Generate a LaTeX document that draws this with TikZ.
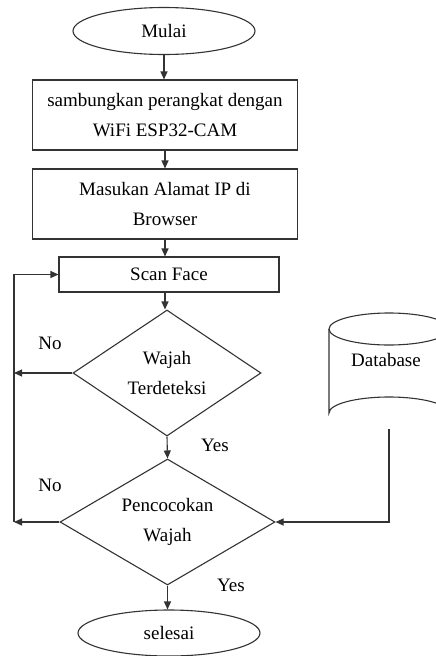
\documentclass[tikz,border=0pt]{standalone}
\usepackage{fontspec}
\setmainfont{Liberation Serif}
\usetikzlibrary{shapes.geometric,arrows.meta}
\tikzset{
  every node/.style={font=\fontsize{19}{30.5}\selectfont, text=black},
  ln/.style={draw=black!80, line width=1.1pt},
  arr/.style={ln, -{Triangle[length=8pt,width=7pt]}},
  boxnode/.style={ln, rectangle, inner sep=0pt, align=center},
  termnode/.style={ln, ellipse, inner sep=0pt},
  decnode/.style={ln, diamond, inner sep=0pt},
  txt/.style={align=center, inner sep=0pt}
}
\begin{document}
\begin{tikzpicture}[x=1pt,y=-1pt]
\useasboundingbox (0,0) rectangle (436,656);
% terminals and boxes
\node[termnode, minimum width=182pt, minimum height=47pt] (mulai) at (164,31) {Mulai};
\node[boxnode, minimum width=265pt, minimum height=70pt] (b1) at (165,115) {sambungkan perangkat dengan\\WiFi ESP32-CAM};
\node[boxnode, minimum width=265pt, minimum height=70pt] (b2) at (165,204) {Masukan Alamat IP di\\Browser};
\node[boxnode, minimum width=220pt, minimum height=35pt] (scan) at (169,274.5) {Scan Face};
% decisions
\node[decnode, minimum width=188pt, minimum height=126pt] (d1) at (167,373) {};
\node[txt] (d1t) at (d1) {Wajah\\Terdeteksi};
\node[decnode, minimum width=215pt, minimum height=126pt] (d2) at (167.5,522) {};
\node[txt] (d2t) at (d2) {Pencocokan\\Wajah};
\node[termnode, minimum width=182pt, minimum height=46pt] (sel) at (169,633) {selesai};
% database cylinder
\draw[ln] (389,329) ellipse [x radius=60, y radius=16];
\draw[ln] (329,329) -- (329,413) arc[start angle=180, end angle=360, x radius=60, y radius=16] -- (449,329);
\node[txt] (db) at (386,360) {Database};
\coordinate (dbbot) at (389,429);
% loop coordinates
\coordinate (lt) at (14,274.5);
\coordinate (lb) at (14,522);
% connectors
\draw[arr] (mulai.south) -- (mulai.south |- b1.north);
\draw[arr] (b1.south) -- (b2.north);
\draw[arr] (b2.south) -- (b2.south |- scan.north);
\draw[arr] (b2.south |- scan.south) -- (b2.south |- d1.north);
\draw[arr] (d1.south) -- (d2.north);
\draw[arr] (d2.south) -- (d2.south |- sel.north);
\draw[arr] (d1.west) -- (d1.west -| lb);
\draw[arr] (d2.west) -- (lb);
\draw[arr] (lb) -- (lt) -- (scan.west);
\draw[arr] (dbbot) -- (dbbot |- d2.east) -- (d2.east);
% labels
\node[txt] (no1) at (50,343) {No};
\node[txt] (no2) at (50,485) {No};
\node[txt] (yes1) at (215,445) {Yes};
\node[txt] (yes2) at (231,585) {Yes};
\end{tikzpicture}
\end{document}
